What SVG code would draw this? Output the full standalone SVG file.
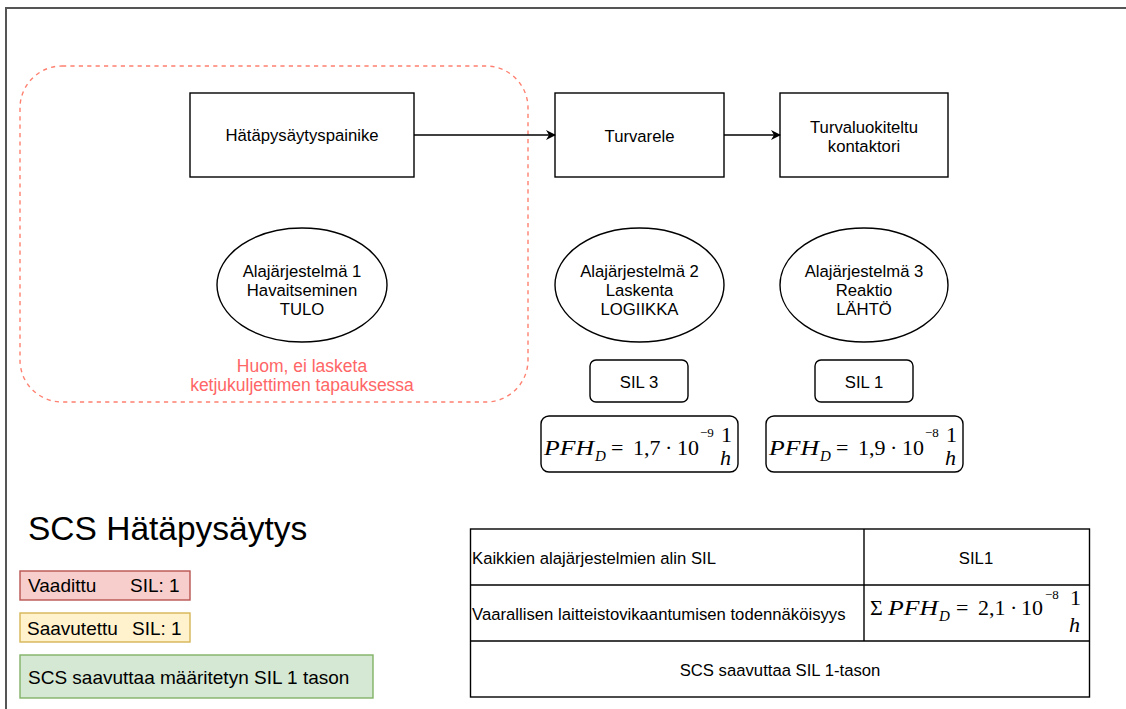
<svg xmlns="http://www.w3.org/2000/svg" width="1126" height="709" viewBox="0 0 1126 709">
<defs>
<style>
.t{font-family:"Liberation Sans",Arial,sans-serif;font-size:16.7px;fill:#000;text-anchor:middle}
.tl{font-family:"Liberation Sans",Arial,sans-serif;font-size:16.7px;fill:#000}
.box{fill:#fff;stroke:#000;stroke-width:1.4}
.m{font-family:"Liberation Serif","Times New Roman",serif;font-size:22px;fill:#000}
.mi{font-style:italic}
.sub{font-size:15px}
.sup{font-size:13px}
.lg{font-family:"Liberation Sans",Arial,sans-serif;font-size:19px;fill:#000}
.conn{fill:none;stroke:#000;stroke-width:1.4}
</style>
<marker id="arr" markerWidth="10" markerHeight="10" refX="9" refY="5" orient="auto" markerUnits="userSpaceOnUse">
<path d="M0,0 L10,5 L0,10 L3,5 Z" fill="#000"/>
</marker>
</defs>
<rect x="0" y="0" width="1126" height="709" fill="#fff"/>
<rect id="frame" x="6" y="8" width="1200" height="800" fill="none" stroke="#555" stroke-width="2"/>

<g id="group-input">
<rect x="20" y="66" width="508" height="336" rx="42" fill="none" stroke="#FF8070" stroke-width="1.4" stroke-dasharray="4.2 4.2"/>
<text class="t" x="302" y="372" style="fill:#FF6666;font-size:17.5px">Huom, ei lasketa</text>
<text class="t" x="302" y="391" style="fill:#FF6666;font-size:17.5px">ketjukuljettimen tapauksessa</text>
</g>

<g id="node-button">
<rect class="box" x="190" y="93" width="224" height="84"/>
<text class="t" x="302" y="141">Hätäpysäytyspainike</text>
</g>
<g id="node-relay">
<rect class="box" x="555" y="93" width="169" height="84"/>
<text class="t" x="639.5" y="142">Turvarele</text>
</g>
<g id="node-contactor">
<rect class="box" x="780" y="93" width="168" height="84"/>
<text class="t" x="864" y="133">Turvaluokiteltu</text>
<text class="t" x="864" y="152">kontaktori</text>
</g>

<g id="connectors">
<line class="conn" x1="414" y1="135" x2="555" y2="135" marker-end="url(#arr)"/>
<line class="conn" x1="724" y1="135" x2="780" y2="135" marker-end="url(#arr)"/>
</g>

<g id="node-sub1">
<ellipse class="box" cx="302" cy="285" rx="85" ry="57"/>
<text class="t" x="302" y="277">Alajärjestelmä 1</text>
<text class="t" x="302" y="296">Havaitseminen</text>
<text class="t" x="302" y="315">TULO</text>
</g>
<g id="node-sub2">
<ellipse class="box" cx="639.5" cy="285" rx="84.5" ry="57"/>
<text class="t" x="639.5" y="277">Alajärjestelmä 2</text>
<text class="t" x="639.5" y="296">Laskenta</text>
<text class="t" x="639.5" y="315">LOGIIKKA</text>
</g>
<g id="node-sub3">
<ellipse class="box" cx="864" cy="285" rx="84" ry="57"/>
<text class="t" x="864" y="277">Alajärjestelmä 3</text>
<text class="t" x="864" y="296">Reaktio</text>
<text class="t" x="864" y="315">LÄHTÖ</text>
</g>

<g id="node-sil3">
<rect class="box" x="590" y="360" width="98" height="42" rx="6"/>
<text class="t" x="639" y="388">SIL 3</text>
</g>
<g id="node-sil1">
<rect class="box" x="815" y="360" width="98" height="42" rx="6"/>
<text class="t" x="864" y="388">SIL 1</text>
</g>

<g id="node-pfh2">
<rect class="box" x="541" y="416" width="197" height="56" rx="8"/>
<text class="m"><tspan class="mi" x="544" y="455" textLength="50" lengthAdjust="spacingAndGlyphs">PFH</tspan><tspan class="mi sub" x="595" y="461">D</tspan><tspan x="611" y="455">=</tspan><tspan x="633" y="455">1,7</tspan><tspan x="665" y="455">·</tspan><tspan x="677" y="455">10</tspan><tspan class="sup" x="700" y="437">−9</tspan><tspan x="721" y="442">1</tspan><tspan class="mi" x="720" y="465">h</tspan></text>
</g>
<g id="node-pfh3">
<rect class="box" x="766" y="416" width="197" height="56" rx="8"/>
<text class="m"><tspan class="mi" x="769" y="455" textLength="50" lengthAdjust="spacingAndGlyphs">PFH</tspan><tspan class="mi sub" x="820" y="461">D</tspan><tspan x="836" y="455">=</tspan><tspan x="858" y="455">1,9</tspan><tspan x="890" y="455">·</tspan><tspan x="902" y="455">10</tspan><tspan class="sup" x="925" y="437">−8</tspan><tspan x="946" y="442">1</tspan><tspan class="mi" x="945" y="465">h</tspan></text>
</g>

<g id="title">
<text x="28" y="540" style="font-family:'Liberation Sans',Arial,sans-serif;font-size:33.5px;fill:#000">SCS Hätäpysäytys</text>
</g>
<g id="legend-required">
<rect x="20" y="571" width="170" height="29" fill="#f8cecc" stroke="#b85450" stroke-width="1.4"/>
<text class="lg"><tspan x="28" y="592">Vaadittu</tspan><tspan x="130" y="592">SIL: 1</tspan></text>
</g>
<g id="legend-achieved">
<rect x="20" y="613" width="170" height="29" fill="#fff2cc" stroke="#d6b656" stroke-width="1.4"/>
<text class="lg"><tspan x="27" y="635">Saavutettu</tspan><tspan x="132" y="635">SIL: 1</tspan></text>
</g>
<g id="legend-result">
<rect x="20" y="655" width="353" height="43" fill="#d5e8d4" stroke="#82b366" stroke-width="1.4"/>
<text class="lg" x="28" y="684">SCS saavuttaa määritetyn SIL 1 tason</text>
</g>

<g id="table">
<rect x="470.5" y="529" width="619" height="168" fill="#fff" stroke="#000" stroke-width="1.4"/>
<line x1="470.5" y1="585" x2="1089.5" y2="585" stroke="#000" stroke-width="1.4"/>
<line x1="470.5" y1="641" x2="1089.5" y2="641" stroke="#000" stroke-width="1.4"/>
<line x1="864" y1="529" x2="864" y2="641" stroke="#000" stroke-width="1.4"/>
<text class="tl" x="472" y="564">Kaikkien alajärjestelmien alin SIL</text>
<text class="t" x="976" y="564">SIL1</text>
<text class="tl" x="472" y="620">Vaarallisen laitteistovikaantumisen todennäköisyys</text>
<text class="m"><tspan x="870" y="615">Σ</tspan><tspan class="mi" x="888" y="615" textLength="50" lengthAdjust="spacingAndGlyphs">PFH</tspan><tspan class="mi sub" x="939" y="621">D</tspan><tspan x="956" y="615">=</tspan><tspan x="978" y="615">2,1</tspan><tspan x="1010" y="615">·</tspan><tspan x="1021" y="615">10</tspan><tspan class="sup" x="1045" y="599">−8</tspan><tspan x="1070" y="605">1</tspan><tspan class="mi" x="1069" y="632">h</tspan></text>
<text class="t" x="780" y="676">SCS saavuttaa SIL 1-tason</text>
</g>
</svg>
